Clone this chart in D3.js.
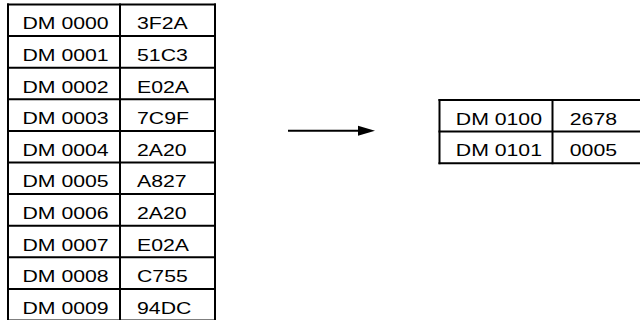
<!DOCTYPE html>
<html>
<head>
<meta charset="utf-8">
<script src="https://cdn.jsdelivr.net/npm/d3@7"></script>
<style>
  html, body { margin: 0; padding: 0; background: #fff; }
  svg { display: block; }
  text { font-family: "Liberation Sans", Arial, Helvetica, sans-serif; fill: #000; }
</style>
</head>
<body>
<svg id="chart" width="640" height="320"></svg>
<script>
const sourceAddresses = ["DM 0000","DM 0001","DM 0002","DM 0003","DM 0004","DM 0005","DM 0006","DM 0007","DM 0008","DM 0009"];
const sourceValues = ["3F2A","51C3","E02A","7C9F","2A20","A827","2A20","E02A","C755","94DC"];
const resultAddresses = ["DM 0100","DM 0101"];
const resultValues = ["2678","0005"];

const svg = d3.select("#chart");
const rowH = 31.6;
const fontSize = 17;
const stretch = 1.25;

function drawTable(g, addrs, vals, x0, x1, x2, top, txtA, txtV) {
  const n = addrs.length;
  const y = d3.scaleLinear().domain([0, n]).range([top, top + n * rowH]);
  const rows = d3.range(n);
  // horizontal lines
  g.selectAll("line.h").data(d3.range(n + 1)).join("line")
    .attr("x1", x0 - 1).attr("x2", x2 + 1)
    .attr("y1", d => y(d)).attr("y2", d => y(d))
    .attr("stroke", "#000").attr("stroke-width", 2);
  // vertical lines
  g.selectAll("line.v").data([x0, x1, x2]).join("line")
    .attr("x1", d => d).attr("x2", d => d)
    .attr("y1", y(0) - 1).attr("y2", y(n) + 1)
    .attr("stroke", "#000").attr("stroke-width", 2);
  g.selectAll("text.a").data(rows).join("text")
    .attr("class", "a")
    .attr("transform", d => `translate(${x0 + txtA},${y(d) + 24.8}) scale(${stretch},1)`)
    .attr("font-size", fontSize)
    .text(d => addrs[d]);
  g.selectAll("text.v").data(rows).join("text")
    .attr("class", "v")
    .attr("transform", d => `translate(${x1 + txtV},${y(d) + 24.8}) scale(${stretch},1)`)
    .attr("font-size", fontSize)
    .text(d => vals[d]);
}

drawTable(svg.append("g"), sourceAddresses, sourceValues, 8, 120, 215, 4.5, 14.5, 17);
drawTable(svg.append("g"), resultAddresses, resultValues, 439.5, 552.5, 643, 100, 16.3, 17.3);

// arrow
const ag = svg.append("g");
ag.append("line")
  .attr("x1", 288).attr("x2", 362).attr("y1", 130.7).attr("y2", 130.7)
  .attr("stroke", "#000").attr("stroke-width", 2);
ag.append("path")
  .attr("d", d3.line()([[358, 125.7], [375, 130.7], [358, 135.7]]) + "Z")
  .attr("fill", "#000");
</script>
</body>
</html>
